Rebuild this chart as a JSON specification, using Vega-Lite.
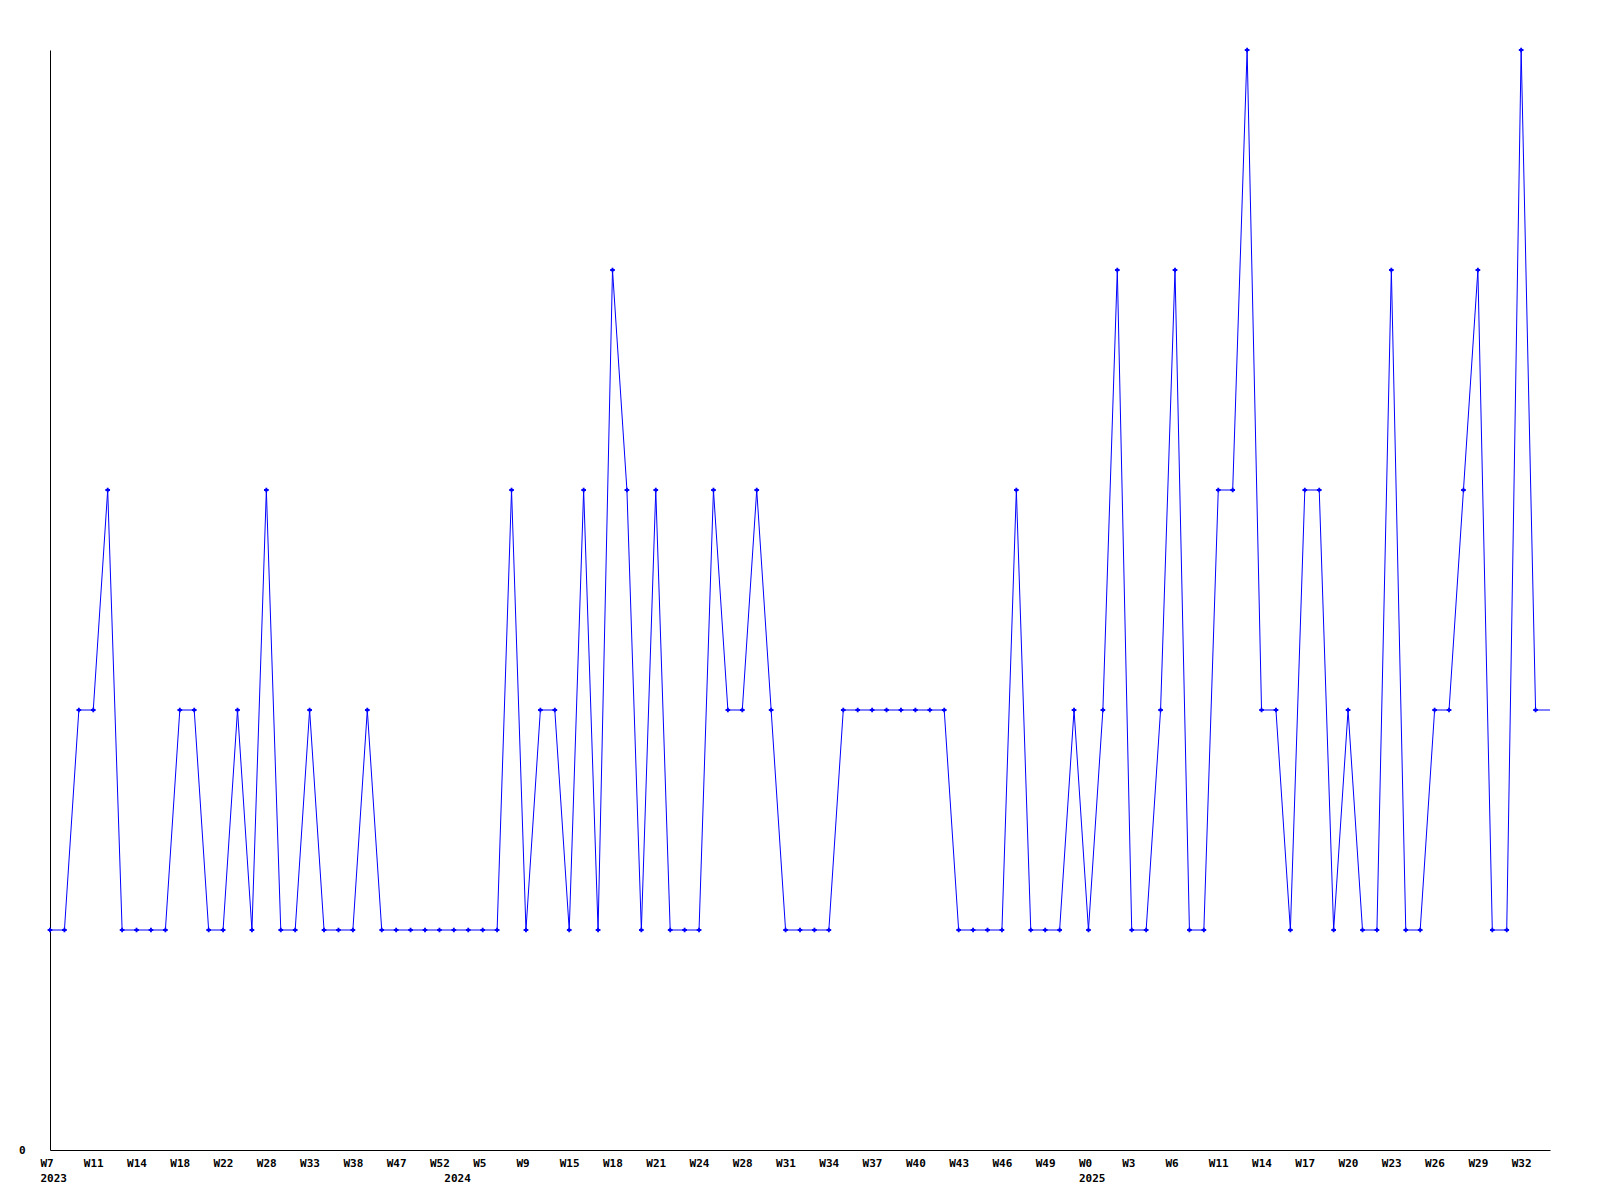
{
  "$schema": "https://vega.github.io/schema/vega-lite/v6.json",
  "autosize": {"type": "none"},
  "padding": {"left": 50, "top": 50, "right": 50, "bottom": 50},
  "width": 1500,
  "height": 1100,
  "background": "white",
  "config": {"view": {"stroke": null}},
  "data": {"values": [
    {"week": "2023 W7", "value": 1}, {"week": "2023 W8", "value": 1}, {"week": "2023 W10", "value": 2},
    {"week": "2023 W11", "value": 2}, {"week": "2023 W12", "value": 3}, {"week": "2023 W13", "value": 1},
    {"week": "2023 W14", "value": 1}, {"week": "2023 W15", "value": 1}, {"week": "2023 W16", "value": 1},
    {"week": "2023 W18", "value": 2}, {"week": "2023 W19", "value": 2}, {"week": "2023 W20", "value": 1},
    {"week": "2023 W22", "value": 1}, {"week": "2023 W24", "value": 2}, {"week": "2023 W26", "value": 1},
    {"week": "2023 W28", "value": 3}, {"week": "2023 W30", "value": 1}, {"week": "2023 W31", "value": 1},
    {"week": "2023 W33", "value": 2}, {"week": "2023 W35", "value": 1}, {"week": "2023 W36", "value": 1},
    {"week": "2023 W38", "value": 1}, {"week": "2023 W41", "value": 2}, {"week": "2023 W44", "value": 1},
    {"week": "2023 W47", "value": 1}, {"week": "2023 W49", "value": 1}, {"week": "2023 W50", "value": 1},
    {"week": "2023 W52", "value": 1}, {"week": "2024 W1", "value": 1}, {"week": "2024 W3", "value": 1},
    {"week": "2024 W5", "value": 1}, {"week": "2024 W7", "value": 1}, {"week": "2024 W8", "value": 3},
    {"week": "2024 W9", "value": 1}, {"week": "2024 W11", "value": 2}, {"week": "2024 W13", "value": 2},
    {"week": "2024 W15", "value": 1}, {"week": "2024 W16", "value": 3}, {"week": "2024 W17", "value": 1},
    {"week": "2024 W18", "value": 4}, {"week": "2024 W19", "value": 3}, {"week": "2024 W20", "value": 1},
    {"week": "2024 W21", "value": 3}, {"week": "2024 W22", "value": 1}, {"week": "2024 W23", "value": 1},
    {"week": "2024 W24", "value": 1}, {"week": "2024 W25", "value": 3}, {"week": "2024 W27", "value": 2},
    {"week": "2024 W28", "value": 2}, {"week": "2024 W29", "value": 3}, {"week": "2024 W30", "value": 2},
    {"week": "2024 W31", "value": 1}, {"week": "2024 W32", "value": 1}, {"week": "2024 W33", "value": 1},
    {"week": "2024 W34", "value": 1}, {"week": "2024 W35", "value": 2}, {"week": "2024 W36", "value": 2},
    {"week": "2024 W37", "value": 2}, {"week": "2024 W38", "value": 2}, {"week": "2024 W39", "value": 2},
    {"week": "2024 W40", "value": 2}, {"week": "2024 W41", "value": 2}, {"week": "2024 W42", "value": 2},
    {"week": "2024 W43", "value": 1}, {"week": "2024 W44", "value": 1}, {"week": "2024 W45", "value": 1},
    {"week": "2024 W46", "value": 1}, {"week": "2024 W47", "value": 3}, {"week": "2024 W48", "value": 1},
    {"week": "2024 W49", "value": 1}, {"week": "2024 W50", "value": 1}, {"week": "2024 W51", "value": 2},
    {"week": "2025 W0", "value": 1}, {"week": "2025 W1", "value": 2}, {"week": "2025 W2", "value": 4},
    {"week": "2025 W3", "value": 1}, {"week": "2025 W4", "value": 1}, {"week": "2025 W5", "value": 2},
    {"week": "2025 W6", "value": 4}, {"week": "2025 W8", "value": 1}, {"week": "2025 W9", "value": 1},
    {"week": "2025 W11", "value": 3}, {"week": "2025 W12", "value": 3}, {"week": "2025 W13", "value": 5},
    {"week": "2025 W14", "value": 2}, {"week": "2025 W15", "value": 2}, {"week": "2025 W16", "value": 1},
    {"week": "2025 W17", "value": 3}, {"week": "2025 W18", "value": 3}, {"week": "2025 W19", "value": 1},
    {"week": "2025 W20", "value": 2}, {"week": "2025 W21", "value": 1}, {"week": "2025 W22", "value": 1},
    {"week": "2025 W23", "value": 4}, {"week": "2025 W24", "value": 1}, {"week": "2025 W25", "value": 1},
    {"week": "2025 W26", "value": 2}, {"week": "2025 W27", "value": 2}, {"week": "2025 W28", "value": 3},
    {"week": "2025 W29", "value": 4}, {"week": "2025 W30", "value": 1}, {"week": "2025 W31", "value": 1},
    {"week": "2025 W32", "value": 5}, {"week": "2025 W33", "value": 2}, {"week": "2025 W34", "value": 2}
  ]},
  "encoding": {
    "x": {"field": "week", "type": "ordinal", "sort": null, "scale": {"type": "point", "padding": 0}},
    "y": {"field": "value", "type": "quantitative", "scale": {"domain": [0, 5], "nice": false, "zero": true},
      "axis": {"values": [0], "title": null, "grid": false, "ticks": false, "tickSize": 0, "labelPadding": 25,
        "domainColor": "black", "domainWidth": 1, "labelFont": "DejaVu Sans Mono", "labelFontWeight": "bold",
        "labelFontSize": 11, "labelColor": "black"}}
  },
  "layer": [
    {
      "mark": {"type": "line", "color": "#0000ff", "strokeWidth": 1},
      "encoding": {
        "x": {"field": "week", "type": "ordinal", "sort": null, "scale": {"type": "point", "padding": 0},
          "axis": {"orient": "bottom", "title": null, "ticks": false, "tickSize": 0, "labelPadding": 7, "labelAngle": 0,
            "labelAlign": "left", "labelOffset": -10, "labelBaseline": "top", "labelOverlap": false,
            "values": ["2023 W7", "2023 W11", "2023 W14", "2023 W18", "2023 W22", "2023 W28", "2023 W33", "2023 W38", "2023 W47", "2023 W52",
              "2024 W5", "2024 W9", "2024 W15", "2024 W18", "2024 W21", "2024 W24", "2024 W28", "2024 W31", "2024 W34", "2024 W37",
              "2024 W40", "2024 W43", "2024 W46", "2024 W49", "2025 W0", "2025 W3", "2025 W6", "2025 W11", "2025 W14", "2025 W17",
              "2025 W20", "2025 W23", "2025 W26", "2025 W29", "2025 W32"],
            "labelExpr": "split(datum.value, ' ')[1]",
            "domainColor": "black", "domainWidth": 1, "labelFont": "DejaVu Sans Mono", "labelFontWeight": "bold",
            "labelFontSize": 11, "labelColor": "black"}}
      }
    },
    {
      "transform": [{"filter": "datum.week !== '2025 W34'"}],
      "mark": {"type": "point", "shape": "cross", "filled": true, "color": "#0000ff", "size": 22, "opacity": 1},
      "encoding": {
        "x": {"field": "week", "type": "ordinal", "sort": null, "scale": {"type": "point", "padding": 0},
          "axis": {"orient": "bottom", "title": null, "ticks": false, "tickSize": 0, "domain": false, "labelPadding": 22, "labelAngle": 0,
            "labelAlign": "left", "labelOffset": -10, "labelBaseline": "top", "labelOverlap": false,
            "values": ["2023 W7", "2024 W1", "2025 W0"],
            "labelExpr": "split(datum.value, ' ')[0]",
            "labelFont": "DejaVu Sans Mono", "labelFontWeight": "bold",
            "labelFontSize": 11, "labelColor": "black"}}
      }
    }
  ],
  "resolve": {"axis": {"x": "independent"}}
}
